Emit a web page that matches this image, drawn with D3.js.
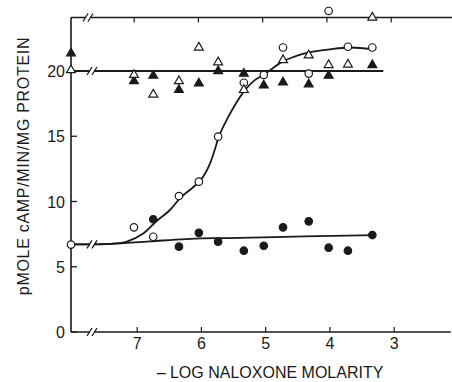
<!DOCTYPE html>
<html>
<head>
<meta charset="utf-8">
<script src="https://cdn.jsdelivr.net/npm/d3@7"></script>
<style>
  body { margin: 0; background: #fff; }
  svg text { font-family: "Liberation Sans", Arial, sans-serif; fill: #1a1a1a; }
</style>
</head>
<body>
<svg id="chart" width="452" height="382"></svg>
<script>
// naloxone dose-response, cAMP

// x = -log naloxone molarity; 8.03 is the axis itself (no naloxone)
const xTicks = [7, 6, 5, 4, 3];
const yTicks = [0, 5, 10, 15, 20];
const topFrame = 24.1;

const openCircles = [[8.03, 6.7], [7.05, 8.02], [6.75, 7.3], [6.35, 10.42], [6.04, 11.52],
  [5.74, 14.97], [5.34, 19.1], [5.03, 19.7], [4.73, 21.8], [4.33, 19.8], [4.02, 24.6],
  [3.72, 21.86], [3.34, 21.8]];
const filledCircles = [[6.75, 8.64], [6.35, 6.54], [6.04, 7.6], [5.74, 6.92], [5.34, 6.23],
  [5.03, 6.61], [4.73, 8.02], [4.33, 8.48], [4.02, 6.46], [3.72, 6.23], [3.34, 7.43]];
const openTriangles = [[8.03, 20.07], [7.05, 19.7], [6.75, 18.2], [6.35, 19.23], [6.04, 21.8],
  [5.74, 20.67], [5.34, 18.55], [4.73, 20.84], [4.33, 21.2], [4.02, 20.46], [3.72, 20.5],
  [3.34, 24.1]];
const filledTriangles = [[8.03, 21.36], [7.05, 19.23], [6.75, 19.64], [6.35, 18.55], [6.04, 19.05],
  [5.74, 20.0], [5.34, 19.8], [5.03, 18.9], [4.73, 19.13], [4.33, 18.98], [4.02, 19.64],
  [3.34, 20.46]];

// fitted curves
const sigmoidFit = [[8.03, 6.72], [7.42, 6.75], [7.16, 6.92], [6.9, 7.56], [6.71, 8.45],
  [6.49, 9.35], [6.32, 10.32], [6.13, 11.09], [6.01, 11.65], [5.88, 12.75], [5.79, 14.0],
  [5.73, 14.97], [5.58, 16.5], [5.43, 17.78], [5.3, 18.67], [5.17, 19.3], [5.02, 19.75],
  [4.91, 20.13], [4.75, 20.7], [4.55, 21.1], [4.39, 21.36], [4.0, 21.66], [3.69, 21.8],
  [3.33, 21.66]];
const baselineFit = [[8.03, 6.72], [7.42, 6.75], [6.8, 6.95], [6.0, 7.18], [5.6, 7.2],
  [4.4, 7.32], [3.31, 7.43]];
const triangleFit = [[8.03, 20], [3.17, 20]];

const svg = d3.select("#chart");
const ink = "#1a1a1a";

const x = d3.scaleLinear().domain([8.03, 2.1]).range([71, 452]);
const y = d3.scaleLinear().domain([0, 20]).range([332, 71]);

const line = d3.line().x(d => x(d[0])).y(d => y(d[1]));

// frame: left axis, bottom axis, top line
svg.append("line")
  .attr("x1", x(8.03)).attr("x2", x(8.03))
  .attr("y1", y(topFrame)).attr("y2", y(0))
  .style("stroke", ink).style("stroke-width", 1.6);
svg.append("path")
  .attr("d", line([[8.03, 0], [2.12, 0]]))
  .style("stroke", ink).style("stroke-width", 1.6).style("fill", "none");
svg.append("path")
  .attr("d", line([[8.03, topFrame], [2.1, topFrame]]))
  .style("stroke", ink).style("stroke-width", 1.6).style("fill", "none");

// ticks
yTicks.forEach(t => {
  svg.append("line")
    .attr("x1", x(8.03)).attr("x2", x(8.03) + 6)
    .attr("y1", y(t)).attr("y2", y(t))
    .style("stroke", ink).style("stroke-width", 1.3);
  svg.append("text")
    .attr("x", 65).attr("y", y(t) + 6)
    .attr("text-anchor", "end")
    .style("font-size", "16px")
    .text(t);
});
xTicks.forEach(t => {
  svg.append("line")
    .attr("x1", x(t)).attr("x2", x(t))
    .attr("y1", y(0)).attr("y2", y(0) - 5)
    .style("stroke", ink).style("stroke-width", 1.2);
  svg.append("line")
    .attr("x1", x(t) - 3).attr("x2", x(t) - 3)
    .attr("y1", y(topFrame)).attr("y2", y(topFrame) + 5)
    .style("stroke", ink).style("stroke-width", 1.2);
  svg.append("text")
    .attr("x", x(t)).attr("y", 349)
    .attr("text-anchor", "middle")
    .style("font-size", "16px")
    .text(t);
});

// fit curves
svg.append("path")
  .attr("d", line.curve(d3.curveCatmullRom)(sigmoidFit))
  .style("stroke", ink).style("stroke-width", 1.8).style("fill", "none");
svg.append("path")
  .attr("d", line.curve(d3.curveCatmullRom)(baselineFit))
  .style("stroke", ink).style("stroke-width", 1.8).style("fill", "none");
svg.append("path")
  .attr("d", line.curve(d3.curveLinear)(triangleFit))
  .style("stroke", ink).style("stroke-width", 1.8).style("fill", "none");

// axis breaks "//"
[0, 6.72, 20, topFrame].forEach(v => {
  const cy = y(v);
  const cx = v === topFrame ? 88 : 92;
  svg.append("rect")
    .attr("x", cx - 2).attr("y", cy - 3)
    .attr("width", 4).attr("height", 6)
    .style("fill", "#fff");
  [-2.5, 2.5].forEach(dx => {
    svg.append("line")
      .attr("x1", cx + dx - 2.5).attr("y1", cy + 4)
      .attr("x2", cx + dx + 2.5).attr("y2", cy - 4)
      .style("stroke", ink).style("stroke-width", 1.3);
  });
});

// markers
const circleSym = d3.symbol().type(d3.symbolCircle).size(44);
const triSym = d3.symbol().type(d3.symbolTriangle).size(34);

function drawMarks(points, sym, filled) {
  svg.selectAll(null)
    .data(points)
    .enter()
    .append("path")
    .attr("d", sym)
    .attr("transform", d => `translate(${x(d[0])},${y(d[1])})`)
    .style("fill", filled ? ink : "#fff")
    .style("stroke", ink)
    .style("stroke-width", 1.2);
}
drawMarks(filledCircles, circleSym, true);
drawMarks(openCircles, circleSym, false);
drawMarks(filledTriangles, triSym, true);
drawMarks(openTriangles, triSym, false);

// axis titles
svg.append("text")
  .attr("transform", "translate(29,166) rotate(-90)")
  .attr("text-anchor", "middle")
  .style("font-size", "16px")
  .style("letter-spacing", "0.7px")
  .text("pMOLE cAMP/MIN/MG PROTEIN");
svg.append("text")
  .attr("x", 270).attr("y", 378)
  .attr("text-anchor", "middle")
  .style("font-size", "16px")
  .text("– LOG NALOXONE MOLARITY");
</script>
</body>
</html>
